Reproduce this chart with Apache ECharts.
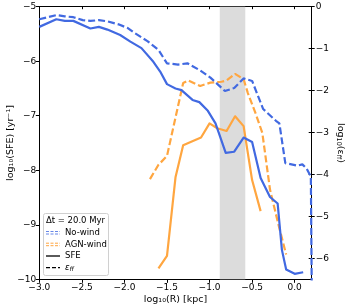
<!DOCTYPE html>
<html>
<head>
<meta charset="utf-8">
<script src="https://cdn.jsdelivr.net/npm/echarts@6/dist/echarts.min.js"></script>
<style>
html,body{margin:0;padding:0;background:#fff;}
#c{width:351px;height:308px;}
</style>
</head>
<body>
<div id="c"></div>
<script>
// ---- data ----
var noWindSfeX = [-3.0, -2.8, -2.7, -2.6, -2.4, -2.3, -2.2, -2.05, -1.93, -1.8, -1.66, -1.58, -1.5, -1.4, -1.33, -1.2, -1.12, -1.02, -0.93, -0.81, -0.71, -0.6, -0.5, -0.4, -0.29, -0.2, -0.15, -0.1, 0.0, 0.1];
var noWindSfe  = [-5.37, -5.23, -5.26, -5.26, -5.40, -5.37, -5.42, -5.52, -5.64, -5.76, -6.01, -6.19, -6.42, -6.50, -6.53, -6.71, -6.75, -6.91, -7.14, -7.68, -7.66, -7.40, -7.48, -8.14, -8.49, -8.61, -9.46, -9.82, -9.90, -9.87];

var noWindEffX = [-3.0, -2.8, -2.7, -2.6, -2.49, -2.4, -2.3, -2.2, -2.07, -1.96, -1.9, -1.73, -1.6, -1.5, -1.37, -1.26, -1.11, -0.99, -0.91, -0.82, -0.71, -0.6, -0.5, -0.44, -0.37, -0.22, -0.18, -0.11, 0.03, 0.09, 0.14, 0.19, 0.2];
var noWindEff  = [-0.30, -0.20, -0.23, -0.25, -0.32, -0.34, -0.32, -0.35, -0.42, -0.51, -0.60, -0.82, -1.03, -1.35, -1.38, -1.35, -1.52, -1.69, -1.84, -2.01, -1.94, -1.71, -1.77, -2.08, -2.44, -2.72, -2.78, -3.73, -3.79, -3.76, -3.86, -4.05, -6.6];

var agnSfeX = [-1.6, -1.5, -1.4, -1.31, -1.1, -1.0, -0.91, -0.8, -0.7, -0.6, -0.5, -0.4];
var agnSfe  = [-9.80, -9.57, -8.13, -7.54, -7.40, -7.14, -7.23, -7.28, -7.01, -7.19, -8.18, -8.75];

var agnEffX = [-1.7, -1.6, -1.5, -1.31, -1.25, -1.11, -0.99, -0.86, -0.8, -0.7, -0.6, -0.55, -0.46, -0.38, -0.29, -0.19, -0.1];
var agnEff  = [-4.11, -3.77, -3.56, -1.82, -1.76, -1.89, -1.81, -1.79, -1.76, -1.60, -1.73, -2.06, -2.54, -3.01, -4.36, -5.20, -5.91];

var shadedBand = [-0.88, -0.58];

var xTicks = [-3.0, -2.5, -2.0, -1.5, -1.0, -0.5, 0.0];
var leftTicks = [-10, -9, -8, -7, -6, -5];
var rightTicks = [-6, -5, -4, -3, -2, -1, 0];

var seriesNames = ['No-wind', 'AGN-wind'];
var legendTitle = 'Δt = 20.0 Myr';

// ---- helpers ----
function pairs(xs, ys){ return xs.map(function(x,i){ return [x, ys[i]]; }); }
function minus(v){ return String(v).replace('-', '\u2212'); }

var BLUE = '#4169e1';
var ORANGE = '#ffa640';
var FONT = 'DejaVu Sans';

var chart = echarts.init(document.getElementById('c'), null, {renderer:'canvas'});

var axisLineStyle = {color:'#000', width:1};

var option = {
  animation:false,
  backgroundColor:'#fff',
  grid:{left:39.3, right:39.3, top:6.7, bottom:28.7, containLabel:false, outerBoundsMode:'none'},
  xAxis:[{
    type:'value', min:-3, max:0.2, interval:0.5,
    position:'bottom',
    axisLine:{show:true, onZero:false, lineStyle:axisLineStyle},
    axisTick:{show:true, inside:false, length:3.5, lineStyle:{color:'#000'}},
    axisLabel:{color:'#000', fontFamily:FONT, fontSize:9, margin:4, showMinLabel:true, showMaxLabel:false, hideOverlap:false,
      formatter:function(v){ return xTicks.indexOf(Math.round(v*10)/10) >= 0 ? minus(v.toFixed(1)) : ''; }},
    splitLine:{show:false},
    name:'log₁₀(R) [kpc]', nameLocation:'middle', nameGap:15, nameMoveOverlap:false,
    nameTextStyle:{color:'#000', fontFamily:FONT, fontSize:9.5}
  },{
    type:'value', min:-3, max:0.2, interval:0.5,
    position:'top',
    axisLine:{show:true, onZero:false, lineStyle:axisLineStyle},
    axisTick:{show:true, inside:true, length:2.5, lineStyle:{color:'#000'}},
    axisLabel:{show:false},
    splitLine:{show:false}
  }],
  yAxis:[{
    type:'value', min:leftTicks[0], max:leftTicks[leftTicks.length-1], interval:1,
    position:'left',
    axisLine:{show:true, onZero:false, lineStyle:axisLineStyle},
    axisTick:{show:true, inside:false, length:3.5, lineStyle:{color:'#000'}},
    axisLabel:{color:'#000', fontFamily:FONT, fontSize:9, margin:3, showMinLabel:true, showMaxLabel:true, hideOverlap:false,
      formatter:function(v){ return minus(v); }},
    splitLine:{show:false},
    name:'log₁₀(SFE) [yr⁻¹]', nameLocation:'middle', nameGap:24, nameRotate:90, nameMoveOverlap:false,
    nameTextStyle:{color:'#000', fontFamily:FONT, fontSize:9.5}
  },{
    type:'value', min:-6.5, max:0,
    position:'right',
    axisLine:{show:true, onZero:false, lineStyle:axisLineStyle},
    axisTick:{show:true, inside:false, length:3, lineStyle:{color:'#000'}, customValues:rightTicks},
    axisLabel:{color:'#000', fontFamily:FONT, fontSize:9, margin:4, customValues:rightTicks, hideOverlap:false,
      formatter:function(v){ return minus(v); }},
    splitLine:{show:false},
    name:'{a|log}{s|10}{a|(ε}{s|ff}{a|)}', nameLocation:'middle', nameGap:23, nameRotate:-90, nameMoveOverlap:false,
    nameTextStyle:{color:'#000', fontFamily:FONT, fontSize:9.5,
      rich:{a:{fontFamily:FONT, fontSize:9.5, color:'#000'},
            s:{fontFamily:FONT, fontSize:6.5, color:'#000', verticalAlign:'bottom', padding:[5,0,0,0]}}}
  },{
    type:'value', min:-6.5, max:0,
    position:'right',
    axisLine:{show:false, onZero:false},
    axisTick:{show:true, inside:true, length:3, lineStyle:{color:'#000'}, customValues:rightTicks},
    axisLabel:{show:false},
    splitLine:{show:false}
  }],
  series:[
    {
      type:'line', name:'band', xAxisIndex:0, yAxisIndex:0, data:[], z:1,
      markArea:{silent:true, itemStyle:{color:'#dcdcdc'},
        data:[[{xAxis:shadedBand[0]},{xAxis:shadedBand[1]}]]}
    },
    {
      type:'line', name:seriesNames[0]+' SFE', xAxisIndex:0, yAxisIndex:0, z:3,
      data:pairs(noWindSfeX, noWindSfe), showSymbol:false, symbol:'none', clip:true,
      lineStyle:{color:BLUE, width:2.2, type:'solid', join:'round'}
    },
    {
      type:'line', name:seriesNames[0]+' eff', xAxisIndex:0, yAxisIndex:1, z:3,
      data:pairs(noWindEffX, noWindEff), showSymbol:false, symbol:'none', clip:true,
      lineStyle:{color:BLUE, width:2.2, type:[7,3]}
    },
    {
      type:'line', name:seriesNames[1]+' SFE', xAxisIndex:0, yAxisIndex:0, z:2,
      data:pairs(agnSfeX, agnSfe), showSymbol:false, symbol:'none', clip:true,
      lineStyle:{color:ORANGE, width:2.2, type:'solid', join:'round'}
    },
    {
      type:'line', name:seriesNames[1]+' eff', xAxisIndex:0, yAxisIndex:1, z:2,
      data:pairs(agnEffX, agnEff), showSymbol:false, symbol:'none', clip:true,
      lineStyle:{color:ORANGE, width:2.2, type:[7,3]}
    }
  ],
  graphic:[
    {type:'rect', left:43, top:213, shape:{width:65, height:62, r:2}, z:10,
      style:{fill:'rgba(255,255,255,0.85)', stroke:'#d0d0d0', lineWidth:1}},
    {type:'text', x:75.5, y:220.5, z:11,
      style:{text:legendTitle, fill:'#000', font:'8.5px "DejaVu Sans"', align:'center', verticalAlign:'middle'}},
    // No-wind handle
    {type:'line', z:11, shape:{x1:46, y1:231.5, x2:60, y2:231.5}, style:{stroke:BLUE, lineWidth:1, lineDash:[3,1.5], opacity:0.8}},
    {type:'line', z:11, shape:{x1:46, y1:234, x2:60, y2:234}, style:{stroke:BLUE, lineWidth:1, lineDash:[3,1.5], opacity:0.8}},
    {type:'text', x:65, y:232.7, z:11, style:{text:seriesNames[0], fill:'#000', font:'8.5px "DejaVu Sans"', verticalAlign:'middle'}},
    // AGN-wind handle
    {type:'line', z:11, shape:{x1:46, y1:243.2, x2:60, y2:243.2}, style:{stroke:ORANGE, lineWidth:1, lineDash:[3,1.5]}},
    {type:'line', z:11, shape:{x1:46, y1:245.7, x2:60, y2:245.7}, style:{stroke:ORANGE, lineWidth:1, lineDash:[3,1.5]}},
    {type:'text', x:65, y:244.3, z:11, style:{text:seriesNames[1], fill:'#000', font:'8.5px "DejaVu Sans"', verticalAlign:'middle'}},
    // SFE
    {type:'line', z:11, shape:{x1:46, y1:256, x2:60, y2:256}, style:{stroke:'#000', lineWidth:1.3}},
    {type:'text', x:65, y:256, z:11, style:{text:'SFE', fill:'#000', font:'8.5px "DejaVu Sans"', verticalAlign:'middle'}},
    // eff
    {type:'line', z:11, shape:{x1:46, y1:267.7, x2:60, y2:267.7}, style:{stroke:'#000', lineWidth:1.3, lineDash:[4,2]}},
    {type:'text', x:65, y:267.7, z:11, style:{
      rich:{e:{fontFamily:FONT, fontSize:8.5, fontStyle:'italic', fill:'#000'},
            s:{fontFamily:FONT, fontSize:6, fontStyle:'italic', fill:'#000', padding:[4,0,0,0]}},
      text:'{e|ε}{s|ff}', verticalAlign:'middle'}}
  ]
};
chart.setOption(option);
</script>
</body>
</html>
